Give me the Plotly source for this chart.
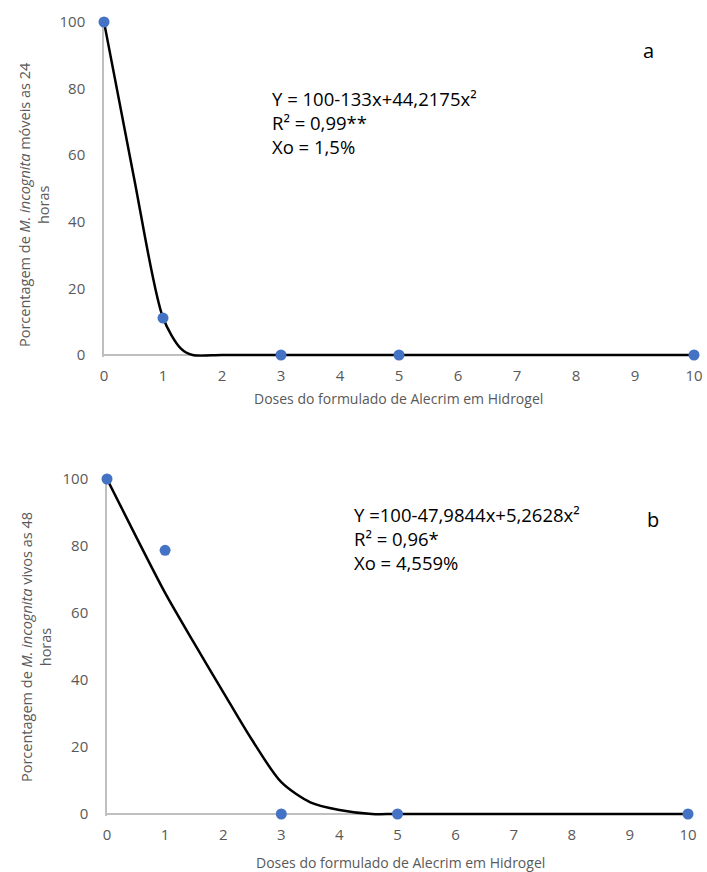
import plotly.graph_objects as go

# ---- data ----
doses = [0, 1, 3, 5, 10]
moveis_24h = [100, 11.1, 0, 0, 0]
vivos_48h = [100, 78.7, 0, 0, 0]

# fitted (smoothed) regression curves
fit_a_x = [0, 0.5, 1, 1.3, 1.5, 2, 3, 5, 10]
fit_a_y = [100, 54, 11.2, 2, 0, 0, 0, 0, 0]
fit_b_x = [0, 0.5, 1, 1.5, 2, 2.5, 3, 3.5, 4, 4.56, 5, 10]
fit_b_y = [100, 82.8, 66, 51, 36.4, 22, 9.5, 3.5, 1.2, 0, 0, 0]

x_ticks = [0, 1, 2, 3, 4, 5, 6, 7, 8, 9, 10]
y_ticks = [0, 20, 40, 60, 80, 100]

W, H = 707, 872
FONT = "Open Sans"
GREY = "#595959"
AXIS = "#BFBFBF"
BLUE = "#4472C4"
YMIN = -0.6  # small room below zero so the flat fitted line is not clipped

fig = go.Figure()

for (fx, fy, px, py, xa, ya) in [
    (fit_a_x, fit_a_y, doses, moveis_24h, "x", "y"),
    (fit_b_x, fit_b_y, doses, vivos_48h, "x2", "y2"),
]:
    fig.add_trace(go.Scatter(x=fx, y=fy, mode="lines",
                             line=dict(color="black", width=2.5, shape="spline", smoothing=0.8),
                             xaxis=xa, yaxis=ya, showlegend=False, cliponaxis=False,
                             hoverinfo="skip"))
    fig.add_trace(go.Scatter(x=px, y=py, mode="markers",
                             marker=dict(color=BLUE, size=11),
                             xaxis=xa, yaxis=ya, showlegend=False, cliponaxis=False))

def px_x(p):
    return p / W

def px_y(p):
    return 1 - p / H

tick_font = dict(family=FONT, size=15, color=GREY)
xaxis_common = dict(showgrid=False, zeroline=False, showline=False, automargin=False,
                    tickfont=tick_font, ticks="", range=[0, 10], tickvals=x_ticks,
                    ticklabelstandoff=8)
yaxis_common = dict(showgrid=False, zeroline=True, zerolinecolor=AXIS, zerolinewidth=1.5,
                    showline=True, linecolor=AXIS, linewidth=1.5, layer="below traces",
                    automargin=False,
                    tickfont=tick_font, ticks="", range=[YMIN, 100], tickvals=y_ticks,
                    ticklabelstandoff=14)

def ydom(p0, p100):
    per = (p0 - p100) / 100.0
    return [px_y(p0 - YMIN * per), px_y(p100)]

fig.update_layout(
    width=W, height=H, autosize=False,
    margin=dict(l=0, r=0, t=0, b=0, pad=0, autoexpand=False),
    plot_bgcolor="white", paper_bgcolor="white",
    xaxis=dict(domain=[px_x(104), px_x(694)], anchor="y", **xaxis_common),
    yaxis=dict(domain=ydom(355, 22), anchor="x", **yaxis_common),
    xaxis2=dict(domain=[px_x(107), px_x(688)], anchor="y2", **xaxis_common),
    yaxis2=dict(domain=ydom(814, 479), anchor="x2", **yaxis_common),
)

ann = []
tfont = dict(family=FONT, size=14, color=GREY)
efont = dict(family=FONT, size=18.5, color="black")

def A(**kw):
    base = dict(xref="paper", yref="paper", showarrow=False, xanchor="center", yanchor="middle")
    base.update(kw)
    ann.append(base)

# axis titles
A(text="Doses do formulado de Alecrim em Hidrogel", x=px_x(398), y=px_y(398), font=tfont)
A(text="Doses do formulado de Alecrim em Hidrogel", x=px_x(400), y=px_y(862), font=tfont)
A(text="Porcentagem de <i>M. incognita</i> móveis as 24<br>horas",
  x=px_x(34), y=px_y(205), textangle=-90, font=dict(family=FONT, size=14.5, color=GREY))
A(text="Porcentagem de <i>M. incognita</i> vivos as 48<br>horas",
  x=px_x(36), y=px_y(647), textangle=-90, font=dict(family=FONT, size=14.5, color=GREY))

# equations
A(text="Y = 100-133x+44,2175x²<br>R² = 0,99**<br>Xo = 1,5%",
  x=px_x(270), y=px_y(123), xanchor="left", align="left", font=efont)
A(text="Y =100-47,9844x+5,2628x²<br>R² = 0,96*<br>Xo = 4,559%",
  x=px_x(352), y=px_y(538), xanchor="left", align="left", font=efont)

# panel letters
A(text="a", x=px_x(648), y=px_y(50), font=dict(family=FONT, size=20, color="black"))
A(text="b", x=px_x(653), y=px_y(519), font=dict(family=FONT, size=20, color="black"))

fig.update_layout(annotations=ann)

fig.write_html("out.html")
